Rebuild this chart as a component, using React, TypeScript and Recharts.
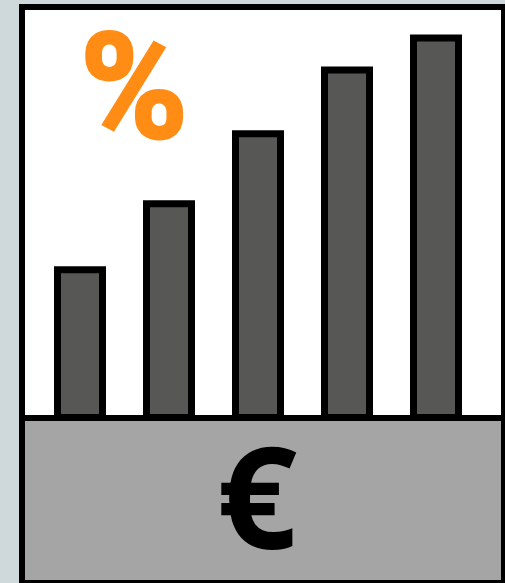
import React from "react";
import { BarChart, Bar, XAxis, YAxis } from "recharts";

const categories = ["A", "B", "C", "D", "E"];
const values = [148, 214, 284, 348, 380];
const rows = categories.map((name, i) => ({ name, value: values[i] }));

const W = 505;
const H = 583;

export default function App() {
  return (
    <div style={{ position: "absolute", left: 0, top: 0, width: W, height: H, background: "#cfd8da", overflow: "hidden" }}>
      <div style={{ position: "absolute", left: 19, top: 4, width: 500, height: 590, boxSizing: "border-box", background: "#fff", border: "6px solid #000", borderRight: "none", borderBottom: "none" }} />
      <div style={{ position: "absolute", left: 501, top: 4, width: 4, height: 579, background: "#000" }} />
      <div style={{ position: "absolute", left: 25, top: 421, width: 476, height: 159, background: "#a5a5a5" }} />
      <div style={{ position: "absolute", left: 25, top: 415, width: 476, height: 6, background: "#000" }} />
      <div style={{ position: "absolute", left: 19, top: 580, width: 486, height: 3, background: "#000" }} />
      <div style={{ position: "absolute", left: 0, top: 0 }}>
        <BarChart width={W} height={H} data={rows} margin={{ top: 18, right: 24.5, bottom: 165.5, left: 35.5 }} barCategoryGap={0}>
          <XAxis dataKey="name" hide />
          <YAxis domain={[0, 400]} hide />
          <Bar dataKey="value" barSize={45} fill="#575755" stroke="#000" strokeWidth={7} isAnimationActive={false} />
          <text x={134} y={138} textAnchor="middle" fontFamily="Roboto" fontWeight={700} fontSize={146} fill="#ff8c14" stroke="#ff8c14" strokeWidth={3}>%</text>
          <text x={257} y={549} textAnchor="middle" fontFamily="'Open Sans'" fontWeight={700} fontSize={141} fill="#000">€</text>
        </BarChart>
      </div>
    </div>
  );
}
